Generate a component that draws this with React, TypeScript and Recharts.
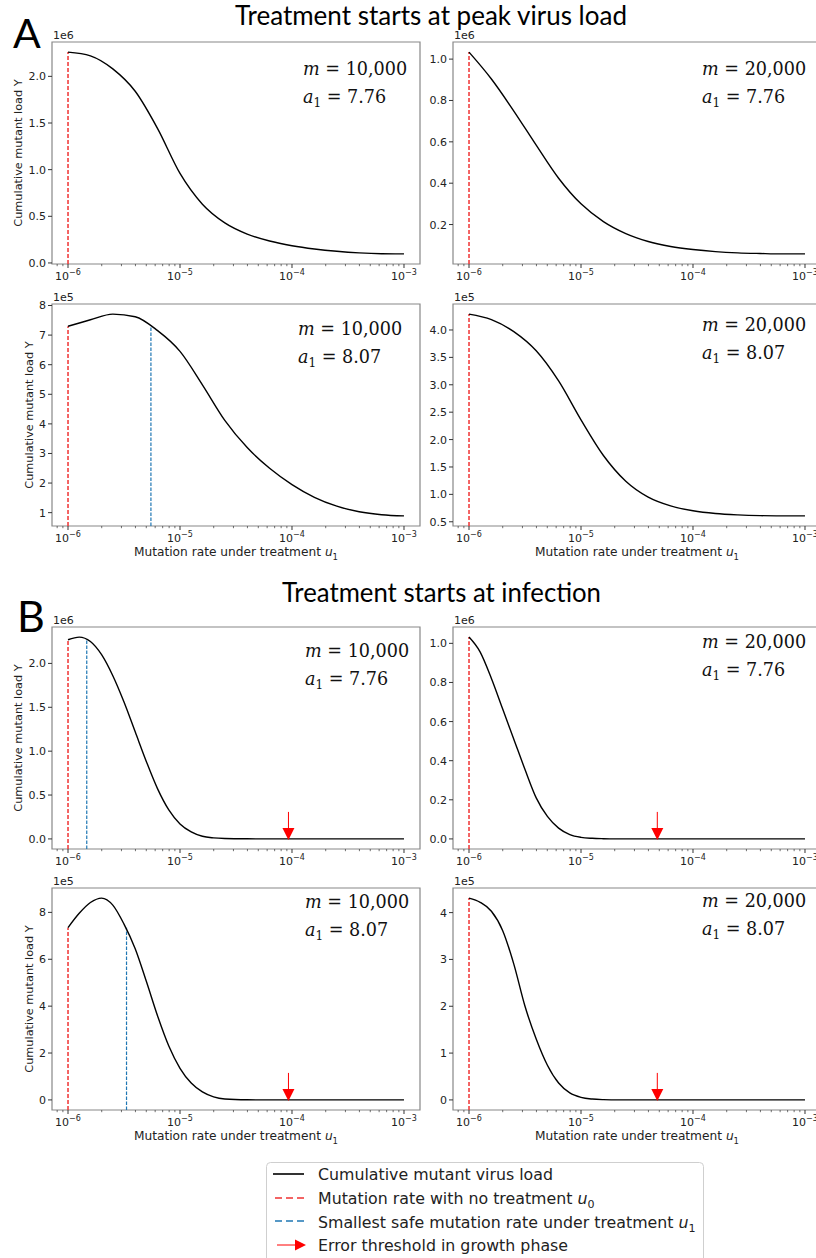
import React from 'react';
import { ComposedChart, Line, XAxis, YAxis, ReferenceLine, ReferenceArea, Scatter } from 'recharts';

// sampled mutation rates u1 (panel A: 0.2 decade steps, panel B: finer near the drop)
const U_A = [1e-6, 1.585e-6, 2.512e-6, 3.981e-6, 6.31e-6, 1e-5, 1.585e-5, 2.512e-5, 3.981e-5, 6.31e-5, 1e-4, 1.585e-4, 2.512e-4, 3.981e-4, 6.31e-4, 1e-3];
const U_B = [1e-6, 1.259e-6, 1.585e-6, 1.995e-6, 2.512e-6, 3.162e-6, 3.981e-6, 5.012e-6, 6.31e-6, 7.943e-6, 1e-5, 1.259e-5, 1.585e-5, 1.995e-5, 2.512e-5, 3.981e-5, 6.31e-5, 1e-4, 2.512e-4, 6.31e-4, 1e-3];

// cumulative mutant load Y, in the units shown by the offset label
const Y_A_M10K_776 = [2.26, 2.22, 2.08, 1.84, 1.44, 0.96, 0.63, 0.43, 0.31, 0.235, 0.185, 0.15, 0.125, 0.108, 0.099, 0.097]; // 1e6
const Y_A_M20K_776 = [1.034, 0.904, 0.749, 0.584, 0.424, 0.3, 0.214, 0.156, 0.118, 0.094, 0.079, 0.069, 0.063, 0.06, 0.058, 0.058]; // 1e6
const Y_A_M10K_807 = [7.3, 7.52, 7.71, 7.62, 7.15, 6.45, 5.32, 4.12, 3.2, 2.5, 1.95, 1.52, 1.22, 1.03, 0.93, 0.89]; // 1e5
const Y_A_M20K_807 = [4.29, 4.19, 3.97, 3.62, 3.07, 2.36, 1.71, 1.24, 0.95, 0.79, 0.7, 0.65, 0.625, 0.612, 0.608, 0.607]; // 1e5
const Y_B_M10K_776 = [2.27, 2.3, 2.25, 2.1, 1.86, 1.56, 1.22, 0.88, 0.57, 0.33, 0.17, 0.08, 0.03, 0.012, 0.005, 0.001, 0, 0, 0, 0, 0]; // 1e6
const Y_B_M20K_776 = [1.032, 0.955, 0.82, 0.665, 0.51, 0.355, 0.21, 0.115, 0.055, 0.022, 0.008, 0.003, 0.001, 0, 0, 0, 0, 0, 0, 0, 0]; // 1e6
const Y_B_M10K_807 = [7.35, 7.96, 8.42, 8.61, 8.31, 7.5, 6.45, 5.05, 3.58, 2.3, 1.35, 0.72, 0.34, 0.13, 0.04, 0.005, 0, 0, 0, 0, 0]; // 1e5
const Y_B_M20K_807 = [4.31, 4.22, 4.03, 3.62, 2.9, 2.0, 1.3, 0.74, 0.36, 0.15, 0.055, 0.018, 0.005, 0.001, 0, 0, 0, 0, 0, 0, 0]; // 1e5

const U0 = 1e-6;
const SAFE_A_M10K_807 = 5.5e-6;
const SAFE_B_M10K_776 = 1.47e-6;
const SAFE_B_M10K_807 = 3.33e-6;
const THRESH_M10K = 9.3e-5;
const THRESH_M20K = 4.8e-5;

const YT_0_2 = [0, 0.5, 1, 1.5, 2];
const YT_02_1 = [0.2, 0.4, 0.6, 0.8, 1.0];
const YT_1_8 = [1, 2, 3, 4, 5, 6, 7, 8];
const YT_05_4 = [0.5, 1, 1.5, 2, 2.5, 3, 3.5, 4];
const YT_0_1 = [0, 0.2, 0.4, 0.6, 0.8, 1.0];
const YT_0_8 = [0, 2, 4, 6, 8];
const YT_0_4 = [0, 1, 2, 3, 4];

const MAJOR_X = [1e-6, 1e-5, 1e-4, 1e-3];
const MINOR_MULT = [2, 3, 4, 5, 6, 7, 8, 9];
const X_TICKS = [8e-7, 9e-7, ...MAJOR_X, ...MAJOR_X.slice(0, 3).flatMap((m) => MINOR_MULT.map((k) => k * m))];
const X_DOMAIN: [number, number] = [Math.pow(10, -6.143), Math.pow(10, -2.857)];

const FW = 368;
const FH = 222;
const FONT = 'DejaVu Sans';
const RED = '#f03232';
const BLUE = '#1f77b4';

type P = {
  fx: number; fy: number; u: number[]; y: number[]; ticks: number[]; digits: number; unit: string;
  safe?: number; thr?: number; m: string; a1: string; ax: number; ay: number; yl?: number; xl?: boolean;
};

const PANELS: P[] = [
  { fx: 52, fy: 42, u: U_A, y: Y_A_M10K_776, ticks: YT_0_2, digits: 1, unit: '1e6', m: '10,000', a1: '7.76', ax: 251, ay: 33, yl: 34 },
  { fx: 453, fy: 42, u: U_A, y: Y_A_M20K_776, ticks: YT_02_1, digits: 1, unit: '1e6', m: '20,000', a1: '7.76', ax: 249, ay: 33 },
  { fx: 52, fy: 304, u: U_A, y: Y_A_M10K_807, ticks: YT_1_8, digits: 0, unit: '1e5', safe: SAFE_A_M10K_807, m: '10,000', a1: '8.07', ax: 246, ay: 31, yl: 23, xl: true },
  { fx: 453, fy: 304, u: U_A, y: Y_A_M20K_807, ticks: YT_05_4, digits: 1, unit: '1e5', m: '20,000', a1: '8.07', ax: 249, ay: 27, xl: true },
  { fx: 52, fy: 627, u: U_B, y: Y_B_M10K_776, ticks: YT_0_2, digits: 1, unit: '1e6', safe: SAFE_B_M10K_776, thr: THRESH_M10K, m: '10,000', a1: '7.76', ax: 253, ay: 30, yl: 34 },
  { fx: 453, fy: 627, u: U_B, y: Y_B_M20K_776, ticks: YT_0_1, digits: 1, unit: '1e6', thr: THRESH_M20K, m: '20,000', a1: '7.76', ax: 249, ay: 21 },
  { fx: 52, fy: 888, u: U_B, y: Y_B_M10K_807, ticks: YT_0_8, digits: 0, unit: '1e5', safe: SAFE_B_M10K_807, thr: THRESH_M10K, m: '10,000', a1: '8.07', ax: 253, ay: 20, yl: 23, xl: true },
  { fx: 453, fy: 888, u: U_B, y: Y_B_M20K_807, ticks: YT_0_4, digits: 0, unit: '1e5', thr: THRESH_M20K, m: '20,000', a1: '8.07', ax: 249, ay: 19, xl: true },
];

function XTick(props: any) {
  const { x, y, payload } = props;
  const e = Math.log10(payload.value);
  const major = Math.abs(e - Math.round(e)) < 1e-9;
  return (
    <g>
      <line x1={x} x2={x} y1={y} y2={y + (major ? 4 : 2.2)} stroke="#333" strokeWidth={major ? 1 : 0.7} />
      {major && (
        <text x={x} y={y + 16} textAnchor="middle" fontFamily={FONT} fontSize={11} fill="#222">
          10<tspan dy={-5} fontSize={8}>{'\u2212' + Math.round(-e)}</tspan>
        </text>
      )}
    </g>
  );
}

function YTick(props: any) {
  const { x, y, payload, digits } = props;
  return (
    <g>
      <line x1={x - 4} x2={x} y1={y} y2={y} stroke="#333" strokeWidth={1} />
      <text x={x - 6} y={y} dy="0.36em" textAnchor="end" fontFamily={FONT} fontSize={11} fill="#222">
        {payload.value.toFixed(digits)}
      </text>
    </g>
  );
}

function Arrow(props: any) {
  const { cx, cy } = props;
  return (
    <g>
      <line x1={cx} x2={cx} y1={cy - 27} y2={cy - 10} stroke="#ff0000" strokeWidth={1} />
      <polygon points={`${cx - 6},${cy - 11} ${cx + 6},${cy - 11} ${cx},${cy + 1}`} fill="#ff0000" />
    </g>
  );
}

function Panel({ p }: { p: P }) {
  const rows = p.u.map((u, i) => ({ u, y: p.y[i] }));
  const lo = Math.min(...p.y);
  const hi = Math.max(...p.y);
  const pad = (hi - lo) * 0.05;
  const yDom: [number, number] = [lo - pad, hi + pad];
  const yStart = p.y[0];
  return (
    <div style={{ position: 'absolute', left: p.fx - 52, top: p.fy - 30 }}>
      <ComposedChart width={430} height={302} data={rows} margin={{ top: 30, right: 10, bottom: 0, left: 0 }}>
        <XAxis dataKey="u" type="number" scale="log" domain={X_DOMAIN} allowDataOverflow ticks={X_TICKS} interval={0}
          tickSize={0} tickMargin={0} tickLine={false} axisLine={false} height={50} tick={(t: any) => <XTick {...t} />} />
        <YAxis type="number" domain={yDom} allowDataOverflow ticks={p.ticks} interval={0} tickSize={0} tickMargin={0}
          tickLine={false} axisLine={false} width={52} tick={(t: any) => <YTick {...t} digits={p.digits} />} />
        <ReferenceLine segment={[{ x: U0, y: yDom[0] }, { x: U0, y: yStart }]} stroke={RED} strokeWidth={1.5}
          strokeDasharray="4 2" ifOverflow="visible" />
        {p.safe && (
          <ReferenceLine segment={[{ x: p.safe, y: yDom[0] }, { x: p.safe, y: yStart }]} stroke={BLUE} strokeWidth={1.2}
            strokeDasharray="3.5 1.5" ifOverflow="visible" />
        )}
        <Line dataKey="y" type="monotone" stroke="#000" strokeWidth={1.4} dot={false} isAnimationActive={false} />
        {p.thr && (
          <Scatter data={[{ u: p.thr, y: 0 }]} dataKey="y" shape={(s: any) => <Arrow {...s} />} isAnimationActive={false} />
        )}
        <ReferenceArea x1={X_DOMAIN[0]} x2={X_DOMAIN[1]} y1={yDom[0]} y2={yDom[1]} fill="none" fillOpacity={0}
          stroke="#888" strokeWidth={1.2} strokeOpacity={1} ifOverflow="visible" />
      </ComposedChart>
    </div>
  );
}

function Sub({ s }: { s: string }) {
  return <tspan fontSize="0.7em" dy={4}>{s}</tspan>;
}

export default function App() {
  return (
    <div style={{ position: 'absolute', left: 0, top: 0, width: 816, height: 1258, overflow: 'hidden', background: '#fff' }}>
      {PANELS.map((p, i) => <Panel key={i} p={p} />)}
      <svg width={816} height={1258} style={{ position: 'absolute', left: 0, top: 0, pointerEvents: 'none' }}>
        <text x={235} y={25} fontFamily="Lato" fontSize={26} textLength={392} lengthAdjust="spacingAndGlyphs" fill="#000">
          Treatment starts at peak virus load
        </text>
        <text x={282} y={602} fontFamily="Lato" fontSize={26} textLength={319} lengthAdjust="spacingAndGlyphs" fill="#000">
          Treatment starts at infection
        </text>
        <text x={13} y={48} fontFamily="Lato" fontSize={41} fill="#000">A</text>
        <text x={17} y={632} fontFamily="Lato" fontSize={43} fill="#000">B</text>

        {PANELS.map((p, i) => (
          <g key={i}>
            <text x={p.fx + 1} y={p.fy - 3} fontFamily={FONT} fontSize={11} fill="#222">{p.unit}</text>
            <text x={p.fx + p.ax} y={p.fy + p.ay} fontFamily="DejaVu Serif" fontSize={17.6} fill="#111">
              <tspan fontStyle="italic">m</tspan> = {p.m}
            </text>
            <text x={p.fx + p.ax} y={p.fy + p.ay + 28} fontFamily="DejaVu Serif" fontSize={17.6} fill="#111">
              <tspan fontStyle="italic">a</tspan><tspan fontSize={12} dy={4}>1</tspan><tspan dy={-4}> = {p.a1}</tspan>
            </text>
            {p.yl && (
              <text transform={`translate(${p.fx - p.yl},${p.fy + FH / 2}) rotate(-90)`} textAnchor="middle"
                dominantBaseline="central" fontFamily={FONT} fontSize={11.3} fill="#222">
                Cumulative mutant load Y
              </text>
            )}
            {p.xl && (
              <text x={p.fx + FW / 2} y={p.fy + FH + 30} textAnchor="middle" fontFamily={FONT} fontSize={12.2} fill="#222">
                Mutation rate under treatment <tspan fontStyle="italic">u</tspan><Sub s="1" />
              </text>
            )}
          </g>
        ))}

        <g fontFamily={FONT} fontSize={15.8} fill="#222">
          <rect x={266.5} y={1162.5} width={437} height={110} rx={4} fill="#fff" stroke="#cfcfcf" />
          <line x1={273} x2={304} y1={1174} y2={1174} stroke="#000" strokeWidth={1.6} />
          <text x={318} y={1180}>Cumulative mutant virus load</text>
          <line x1={275} x2={304} y1={1198} y2={1198} stroke={RED} strokeWidth={1.6} strokeDasharray="7 4" />
          <text x={318} y={1204}>Mutation rate with no treatment <tspan fontStyle="italic">u</tspan><Sub s="0" /></text>
          <line x1={275} x2={304} y1={1221} y2={1221} stroke={BLUE} strokeWidth={1.6} strokeDasharray="7 4" />
          <text x={318} y={1228}>Smallest safe mutation rate under treatment <tspan fontStyle="italic">u</tspan><Sub s="1" /></text>
          <line x1={277} x2={296} y1={1245} y2={1245} stroke="#ff0000" strokeWidth={1} />
          <polygon points="295,1239.5 295,1250.5 306,1245" fill="#ff0000" />
          <text x={318} y={1251}>Error threshold in growth phase</text>
        </g>
      </svg>
    </div>
  );
}
